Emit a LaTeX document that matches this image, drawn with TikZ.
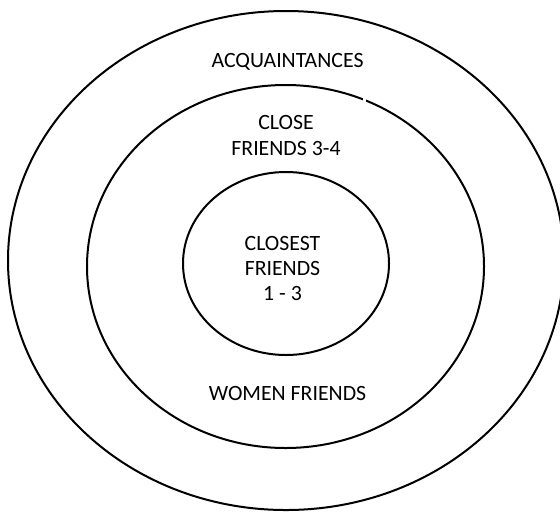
\documentclass[tikz,border=0pt]{standalone}
\usepackage{fontspec}
\setmainfont{Carlito}
\begin{document}
\begin{tikzpicture}[x=0.5pt,y=0.5pt,line width=1pt,
	lbl/.style={align=center,inner sep=0pt,font=\fontsize{10.9}{12.6}\selectfont}]
	\useasboundingbox (0,0) rectangle (560,511);
	\clip (0,0) rectangle (560,511);
	\draw (286,250.5) ellipse [x radius=278,y radius=249.5];
	\draw (285.5,244.5) ellipse [x radius=198.5,y radius=181.5];
	\fill[white] (362.5,408) rectangle (366,416);
	\draw (286,247.5) ellipse [x radius=103,y radius=91.5];
	\node[lbl] (acq) at (287.5,449) {ACQUAINTANCES};
	\node[lbl] (close) at (286,375.5) {CLOSE\\FRIENDS 3-4};
	\node[lbl] (closest) at (282.5,242.5) {CLOSEST\\FRIENDS\\1 - 3};
	\node[lbl] (women) at (287.5,118) {WOMEN FRIENDS};
\end{tikzpicture}
\end{document}
